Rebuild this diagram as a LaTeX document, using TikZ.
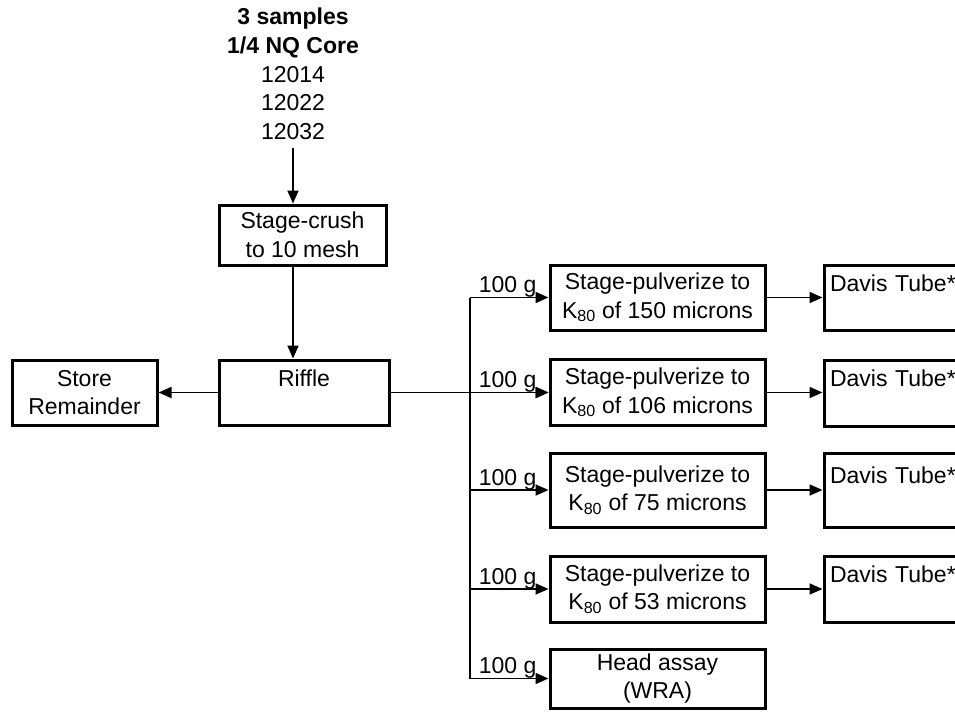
\documentclass[tikz,border=0pt]{standalone}
\usepackage{fontspec}
\setmainfont{Liberation Sans}
\usetikzlibrary{arrows.meta, positioning}
\newcommand\dfont{\fontsize{23}{28.7}\selectfont}

\begin{document}
\begin{tikzpicture}[x=1pt,y=-1pt,
  bx/.style={rectangle,draw,line width=3pt,font=\dfont,inner sep=0pt,align=center},
  dv/.style={bx,align=left,text width=140pt,inner xsep=6pt},
  arr/.style={-{Triangle[length=13pt,width=11pt]},line width=1.8pt},
  ln/.style={line width=1.8pt},
  amt/.style={font=\dfont,anchor=base west,inner sep=0pt}
]
  \useasboundingbox (0,0) rectangle (955,712);
  \clip (0,0) rectangle (955,712);

  \node[font=\dfont,align=center,inner sep=0pt,anchor=north] (src) at (293,8)
    {\textbf{3 samples}\\\textbf{1/4 NQ Core}\\12014\\12022\\12032};
  \node[bx,minimum width=167pt,minimum height=60pt] (crush)  at (302.5,235) {Stage-crush\\to 10 mesh};
  \node[bx,minimum width=170pt,minimum height=65pt] (riffle) at (304,392.5) {Riffle\\\mbox{}};
  \node[bx,minimum width=145pt,minimum height=65pt] (store)  at (84.5,392.5) {Store\\Remainder};

  \node[bx,minimum width=215pt,minimum height=65pt] (P1) at (657.5,297.5) {Stage-pulverize to\\K\textsubscript{80} of 150 microns};
  \node[bx,minimum width=215pt,minimum height=66pt] (P2) at (657.5,392.5) {Stage-pulverize to\\K\textsubscript{80} of 106 microns};
  \node[bx,minimum width=215pt,minimum height=74pt] (P3) at (657.5,490)   {Stage-pulverize to\\K\textsubscript{80} of 75 microns};
  \node[bx,minimum width=215pt,minimum height=66pt] (P4) at (657.5,589)   {Stage-pulverize to\\K\textsubscript{80} of 53 microns};
  \node[bx,minimum width=215pt,minimum height=59pt] (HA) at (657.5,678.5) {Head assay\\(WRA)};

  \node[dv,minimum height=65pt] (D1) at (900,297.5) {Davis Tube*\\\mbox{}};
  \node[dv,minimum height=66pt] (D2) at (900,393)   {Davis Tube*\\\mbox{}};
  \node[dv,minimum height=74pt] (D3) at (900,490)   {Davis Tube*\\\mbox{}};
  \node[dv,minimum height=66pt] (D4) at (900,589)   {Davis Tube*\\\mbox{}};

  \draw[arr,shorten <=8pt] (src.south) -- (src.south |- crush.north);
  \draw[arr] (crush.south -| src.south) -- (src.south |- riffle.north);
  \draw[arr] (riffle.west) -- (store.east);

  \coordinate (tr) at (470,0);
  \draw[ln] (tr |- P1.west) -- (tr |- HA.west);
  \draw[arr] (riffle.east) -- (P2.west);
  \foreach \p in {P1,P2,P3,P4,HA}
    \draw[arr] (tr |- \p.west) -- (\p.west) node[amt,pos=0,xshift=8pt,yshift=5pt] {100 g};
  \foreach \i in {1,...,4}
    \draw[arr] (P\i.east) -- (P\i.east -| D\i.west);
\end{tikzpicture}
\end{document}
